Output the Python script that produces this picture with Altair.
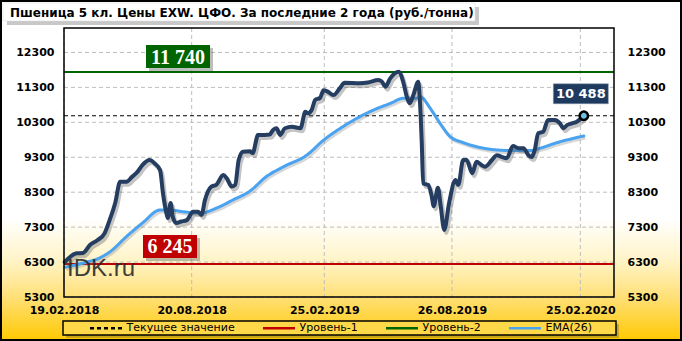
import altair as alt
import pandas as pd

# ---------------- data ----------------
main_dates = [
    "2018-02-20", "2018-03-09", "2018-03-18", "2018-03-28", "2018-04-08", "2018-04-18",
    "2018-04-25", "2018-05-03", "2018-05-10", "2018-05-19", "2018-05-27", "2018-06-04",
    "2018-06-11", "2018-06-21", "2018-06-28", "2018-07-06", "2018-07-10", "2018-07-15",
    "2018-07-17", "2018-07-21", "2018-07-24", "2018-07-29", "2018-08-05", "2018-08-13",
    "2018-08-22", "2018-08-29", "2018-09-03", "2018-09-08", "2018-09-17", "2018-09-24",
    "2018-10-04", "2018-10-09", "2018-10-16", "2018-10-21", "2018-10-26", "2018-11-01",
    "2018-11-11", "2018-11-15", "2018-11-20", "2018-11-22", "2018-12-02", "2018-12-09",
    "2018-12-14", "2018-12-19", "2018-12-24", "2018-12-31", "2019-01-10", "2019-01-22",
    "2019-01-29", "2019-02-02", "2019-02-07", "2019-02-12", "2019-02-19", "2019-02-24",
    "2019-03-02", "2019-03-10", "2019-03-19", "2019-03-26", "2019-04-17", "2019-04-28",
    "2019-05-13", "2019-05-18", "2019-05-23", "2019-05-30", "2019-06-11", "2019-06-18",
    "2019-06-22", "2019-06-27", "2019-07-02", "2019-07-09", "2019-07-11", "2019-07-14",
    "2019-07-16", "2019-07-23", "2019-07-28", "2019-07-31", "2019-08-06", "2019-08-10",
    "2019-08-15", "2019-08-22", "2019-08-31", "2019-09-04", "2019-09-11", "2019-09-16",
    "2019-09-24", "2019-09-30", "2019-10-07", "2019-10-12", "2019-10-22", "2019-10-29",
    "2019-11-05", "2019-11-12", "2019-11-21", "2019-11-29", "2019-12-06", "2019-12-13",
    "2019-12-18", "2019-12-22", "2019-12-27", "2020-01-03", "2020-01-10", "2020-01-20",
    "2020-01-27", "2020-02-01", "2020-02-06", "2020-02-13", "2020-02-20", "2020-03-01",
]
main_values = [
    6300, 6550, 6560, 6790, 6930, 7130,
    7500, 7990, 8600, 8600, 8740, 8890,
    9080, 9220, 9130, 8930, 8280, 7700,
    7560, 7990, 7600, 7420, 7460, 7500,
    7740, 7740, 7650, 8080, 8460, 8510,
    8790, 8700, 8460, 8510, 9220, 9460,
    9470, 9420, 9790, 9940, 9940, 9950,
    10080, 10130, 9940, 10130, 10170, 10130,
    10600, 10560, 10650, 10940, 11000, 11220,
    11180, 11080, 11270, 11430, 11420, 11440,
    11510, 11470, 11320, 11560, 11750, 11420,
    11080, 10850, 11080, 11460, 11030, 9700,
    8550, 8510, 8200, 7900, 8430, 7900,
    7220, 8000, 8650, 8510, 9220, 9220,
    8840, 9170, 9080, 9030, 9220, 9360,
    9310, 9270, 9620, 9560, 9560, 9360,
    9310, 9510, 9990, 10030, 10370, 10370,
    10270, 10130, 10220, 10270, 10320, 10488,
]

ema_dates = [
    "2018-02-20", "2018-03-18", "2018-04-11", "2018-04-26", "2018-05-19", "2018-06-11",
    "2018-07-06", "2018-07-20", "2018-08-08", "2018-09-01", "2018-09-25", "2018-10-18",
    "2018-11-11", "2018-12-04", "2018-12-29", "2019-01-31", "2019-02-24", "2019-03-20",
    "2019-04-12", "2019-05-06", "2019-05-30", "2019-06-18", "2019-07-07", "2019-07-12",
    "2019-07-26", "2019-08-09", "2019-08-23", "2019-09-11", "2019-10-05", "2019-10-29",
    "2019-11-22", "2019-12-16", "2019-12-30", "2020-01-23", "2020-02-15", "2020-03-01",
]
ema_values = [
    6150, 6270, 6420, 6600, 7030, 7420,
    7790, 7790, 7740, 7700, 7850, 8080,
    8330, 8740, 9030, 9360, 9790, 10130,
    10410, 10650, 10840, 10990, 10990, 11030,
    10700, 10270, 9900, 9720, 9580, 9510,
    9490, 9490, 9560, 9720, 9840, 9910,
]

level1_value = 6245
level2_value = 11740

legend_names = ["Текущее значение", "Уровень-1", "Уровень-2", "EMA(26)"]
legend_colors = ["#000000", "#C00000", "#006400", "#4AA3F0"]
legend_dashes = [[4, 3], [1, 0], [1, 0], [1, 0]]

y_ticks = [5300, 6300, 7300, 8300, 9300, 10300, 11300, 12300]
x_tick_dates = [(2018, 2, 19), (2018, 8, 20), (2019, 2, 25), (2019, 8, 26), (2020, 2, 25)]

title_text = "Пшеница  5 кл. Цены EXW. ЦФО. За последние 2 года (руб./тонна)"
watermark_text = "IDK.ru"


def fmt(v):
    return f"{v:,}".replace(",", " ")


# ---------------- tables ----------------
main_df = pd.DataFrame({"date": pd.to_datetime(main_dates), "value": main_values})
ema_df = pd.DataFrame({"date": pd.to_datetime(ema_dates), "value": ema_values,
                       "series": ["EMA(26)"] * len(ema_values)})
last_df = main_df.iloc[[-1]].copy()
last_df["label"] = [fmt(int(v)) for v in last_df["value"]]
current_df = pd.DataFrame({"series": ["Текущее значение"], "value": [main_values[-1]]})
levels_df = pd.DataFrame({"series": ["Уровень-1", "Уровень-2"],
                          "value": [level1_value, level2_value],
                          "label": [fmt(level1_value), fmt(level2_value)]})
lvl1_df = levels_df.iloc[[0]]
lvl2_df = levels_df.iloc[[1]]
ygrid_df = pd.DataFrame({"value": y_ticks})
xgrid_df = pd.DataFrame({"date": pd.to_datetime([f"{y}-{m:02d}-{d:02d}" for y, m, d in x_tick_dates])})
dummy = pd.DataFrame({"k": [1]})

# ---------------- scales / axes ----------------
W, H = 550, 269
x_scale = alt.Scale(domain=[alt.DateTime(year=2018, month=2, date=19),
                            alt.DateTime(year=2020, month=4, date=13)])
y_scale = alt.Scale(domain=[5300, 13000], nice=False, zero=False)

axis_style = dict(labelFont="DejaVu Sans", labelFontWeight="bold", labelFontSize=11,
                  labelColor="#000000", ticks=False, domain=False, grid=False, zindex=2,
                  title=None)
x_axis = alt.Axis(values=[alt.DateTime(year=y, month=m, date=d) for y, m, d in x_tick_dates],
                  format="%d.%m.%Y", orient="bottom", labelPadding=7, labelFlush=False,
                  labelOverlap=False, **axis_style)
y_axis_left = alt.Axis(values=y_ticks, format="d", orient="left", labelPadding=10, **axis_style)
y_axis_right = alt.Axis(values=y_ticks, format="d", orient="right", labelPadding=13,
                        labelAlign="left", **axis_style)

legend = alt.Legend(
    orient="none", legendX=24.5, legendY=282.5, direction="horizontal", columns=4,
    title=None, symbolType="stroke", symbolSize=1024, symbolStrokeWidth=2.5,
    labelFont="DejaVu Sans", labelFontSize=11, labelColor="black", labelOffset=3,
    columnPadding=22, labelLimit=300,
)
color_enc = alt.Color("series:N", scale=alt.Scale(domain=legend_names, range=legend_colors),
                      legend=legend)
dash_enc = alt.StrokeDash("series:N", scale=alt.Scale(domain=legend_names, range=legend_dashes),
                          legend=legend)

X = lambda ax=None: alt.X("date:T", scale=x_scale, axis=ax)
Y = lambda ax=None: alt.Y("value:Q", scale=y_scale, axis=ax)


def deco(x, x2, y, y2, **kw):
    return alt.Chart(dummy).mark_rect(**kw).encode(
        x=alt.value(x), x2=alt.value(x2), y=alt.value(y), y2=alt.value(y2))


bg_gradient = alt.LinearGradient(
    gradient="linear", x1=0, x2=0, y1=0, y2=1,
    stops=[alt.GradientStop(color="#FFFFFF", offset=0),
           alt.GradientStop(color="#FFFFFF", offset=0.64),
           alt.GradientStop(color="#FFF3C4", offset=0.77),
           alt.GradientStop(color="#FFE078", offset=0.87),
           alt.GradientStop(color="#FFC800", offset=1.0)])

background = deco(-64, 618, -28, 313, fill=bg_gradient)
canvas_border = deco(-63, 617, -27, 312, fillOpacity=0, stroke="#000000", strokeWidth=2)

title_shadow = deco(-57, 415, -21, -3, fill="#9A9A9A", opacity=0.55)
title_box = deco(-61, 411, -25, -7, fill="#FFFFFF", stroke="#D8D8D8", strokeWidth=0.5)
title = alt.Chart(dummy).mark_text(
    text=title_text, align="left", baseline="alphabetic", font="DejaVu Sans",
    fontWeight="bold", fontSize=12, color="#000000").encode(
    x=alt.value(-54), y=alt.value(-11))

legend_shadow = deco(2, 555, 296, 310, fill="#8A7420", opacity=0.45)
legend_box = deco(-1, 552, 293, 307, fill="#FFD84A", stroke="#000000", strokeWidth=1.5)

y_grid = alt.Chart(ygrid_df).mark_rule(color="#BDBDBD", strokeWidth=1, strokeDash=[4, 3]).encode(
    y=Y(y_axis_left))
x_grid = alt.Chart(xgrid_df).mark_rule(color="#BDBDBD", strokeWidth=1, strokeDash=[4, 3]).encode(
    x=X(x_axis))

level_rules = alt.Chart(levels_df).mark_rule(strokeWidth=2).encode(
    y=Y(y_axis_right), color=color_enc, strokeDash=dash_enc)
current_rule = alt.Chart(current_df).mark_rule(strokeWidth=1).encode(
    y=Y(), color=color_enc, strokeDash=dash_enc)

ema_shadow = alt.Chart(ema_df).mark_line(
    interpolate="monotone", strokeWidth=3, color="#7A7A7A", opacity=0.3, xOffset=1.5, yOffset=2
).encode(x=X(), y=Y())
ema_line = alt.Chart(ema_df).mark_line(
    interpolate="monotone", strokeWidth=3, strokeCap="round", strokeJoin="round"
).encode(x=X(), y=Y(), color=color_enc, strokeDash=dash_enc)

main_shadow = alt.Chart(main_df).mark_line(
    interpolate="monotone", strokeWidth=4, color="#555555", opacity=0.35, xOffset=2, yOffset=3,
    strokeJoin="round").encode(x=X(), y=Y())
main_line = alt.Chart(main_df).mark_line(
    interpolate="monotone", strokeWidth=4, color="#243D60", strokeCap="round", strokeJoin="round"
).encode(x=X(), y=Y())

marker = alt.Chart(last_df).mark_point(
    filled=True, fill="#6FC2DF", stroke="#000000", strokeWidth=2.5, size=70, opacity=1
).encode(x=X(), y=Y())

cur_box = alt.Chart(last_df).mark_rect(
    fill="#1F3A5F", stroke="#8A9AB0", strokeWidth=0.5,
    xOffset=-30.5, x2Offset=24.5, yOffset=-32, y2Offset=-12
).encode(x=X(), x2="date:T", y=Y(), y2="value:Q")
cur_text = alt.Chart(last_df).mark_text(
    font="DejaVu Sans", fontWeight="bold", fontSize=13, color="#FFFFFF",
    align="center", baseline="middle", dx=-3, dy=-22
).encode(x=X(), y=Y(), text="label:N")


def level_badge(df, x0, x1, top, bottom, fill):
    shadow = alt.Chart(df).mark_rect(fill="#6F6F6F", opacity=0.45, yOffset=top + 3,
                                     y2Offset=bottom + 3).encode(
        x=alt.value(x0 + 3), x2=alt.value(x1 + 3), y=Y(), y2="value:Q")
    box = alt.Chart(df).mark_rect(fill=fill, yOffset=top, y2Offset=bottom).encode(
        x=alt.value(x0), x2=alt.value(x1), y=Y(), y2="value:Q")
    txt = alt.Chart(df).mark_text(
        font="Liberation Serif", fontWeight="bold", fontSize=20, color="#FFFFFF",
        align="center", baseline="middle", dy=(top + bottom) / 2 + 1
    ).encode(x=alt.value((x0 + x1) / 2), y=Y(), text="label:N")
    return [shadow, box, txt]


badge2 = level_badge(lvl2_df, 82, 146, -27, -4, "#006400")
badge1 = level_badge(lvl1_df, 79, 133, -29, -6, "#C00000")

watermark = alt.Chart(dummy).mark_text(
    text=watermark_text, align="left", baseline="alphabetic", font="Liberation Sans",
    fontSize=24, color="#2B2B2B", opacity=0.9).encode(x=alt.value(3), y=alt.value(248))

plot_border = deco(0, W, 0, H, fillOpacity=0, stroke="#000000", strokeWidth=1.5)

chart = alt.layer(
    background, canvas_border, title_shadow, title_box, title,
    legend_shadow, legend_box,
    y_grid, x_grid,
    level_rules, current_rule,
    ema_shadow, ema_line,
    main_shadow, main_line,
    *badge2, *badge1,
    watermark,
    cur_box, cur_text, marker,
    plot_border,
).resolve_axis(x="independent", y="independent").properties(
    width=W, height=H,
    autosize=alt.AutoSizeParams(type="none"),
    padding={"left": 64, "top": 28, "right": 68, "bottom": 44},
).configure_view(stroke=None).configure(background="#FFFFFF")

chart.save("out.html", embed_options={"renderer": "svg", "actions": False})
